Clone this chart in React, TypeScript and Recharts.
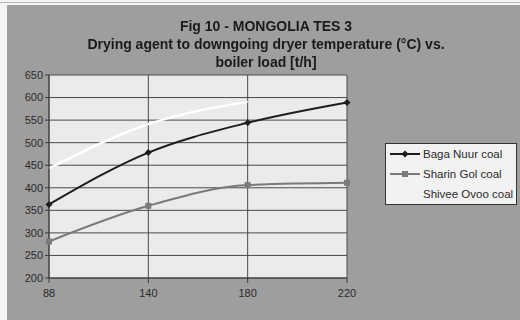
import { CartesianGrid, Line, LineChart, XAxis, YAxis } from "recharts";

// boiler load [t/h]
const loads = ["88", "140", "180", "220"];
// drying agent temperature (°C) per coal
const bagaNuur = [363, 478, 544, 589];
const sharinGol = [281, 360, 406, 411];
const shiveeOvoo = [443, 541, 591, null];
const yTicks = [200, 250, 300, 350, 400, 450, 500, 550, 600, 650];

const data = loads.map((load, i) => ({
  load,
  baga: bagaNuur[i],
  sharin: sharinGol[i],
  shivee: shiveeOvoo[i],
}));

const font = "'Liberation Sans', Arial, sans-serif";

const Diamond = (props: any) => {
  const { cx, cy, key } = props;
  if (cx == null || cy == null) return <g key={key} />;
  const r = 3.5;
  return (
    <polygon
      key={key}
      points={`${cx},${cy - r} ${cx + r},${cy} ${cx},${cy + r} ${cx - r},${cy}`}
      fill="#1e1e1e"
    />
  );
};

const Square = (props: any) => {
  const { cx, cy, key } = props;
  if (cx == null || cy == null) return <g key={key} />;
  return <rect key={key} x={cx - 3} y={cy - 3} width={6} height={6} fill="#7a7a7a" />;
};

const legendItems = [
  { name: "Baga Nuur coal", color: "#1e1e1e", mark: "diamond" },
  { name: "Sharin Gol coal", color: "#7a7a7a", mark: "square" },
  { name: "Shivee Ovoo coal", color: "#ffffff", mark: "none" },
];

export default function App() {
  return (
    <div
      style={{
        position: "fixed",
        left: 0,
        top: 0,
        width: 520,
        height: 320,
        background: "#f4f4f4",
        fontFamily: font,
      }}
    >
      <div style={{ position: "absolute", left: 0, top: 2, width: 520, height: 1, background: "#b8b8b8" }} />
      <div
        style={{
          position: "absolute",
          left: 7,
          top: 5,
          width: 513,
          height: 315,
          background: "#9e9e9e",
        }}
      >
        <LineChart
          width={513}
          height={315}
          data={data}
          margin={{ top: 70, right: 173, left: 0, bottom: 12 }}
        >
          <CartesianGrid stroke="#4a4a4a" strokeWidth={1} fill="#ebebeb" fillOpacity={1} />
          <XAxis
            dataKey="load"
            ticks={loads}
            stroke="#3a3a3a"
            tickSize={5}
            height={30}
            tick={{ fill: "#2a2a2a", fontSize: 11, fontFamily: font }}
            tickMargin={6}
          />
          <YAxis
            domain={[200, 650]}
            ticks={yTicks}
            width={42}
            stroke="#3a3a3a"
            tickSize={4}
            tickMargin={2}
            interval={0}
            tick={{ fill: "#2a2a2a", fontSize: 11, fontFamily: font }}
          />
          <Line
            dataKey="shivee"
            type="monotone"
            stroke="#ffffff"
            strokeWidth={2.5}
            dot={false}
            isAnimationActive={false}
          />
          <Line
            dataKey="sharin"
            type="monotone"
            stroke="#7a7a7a"
            strokeWidth={2}
            dot={Square}
            isAnimationActive={false}
          />
          <Line
            dataKey="baga"
            type="monotone"
            stroke="#1e1e1e"
            strokeWidth={2}
            dot={Diamond}
            isAnimationActive={false}
          />
        </LineChart>
      </div>
      <div
        style={{
          position: "absolute",
          left: 0,
          top: 17,
          width: 532,
          textAlign: "center",
          fontWeight: "bold",
          fontSize: 14,
          lineHeight: "18px",
          color: "#1a1a1a",
        }}
      >
        <div>Fig 10 - MONGOLIA TES 3</div>
        <div>Drying agent to downgoing dryer temperature (°C) vs.</div>
        <div>boiler load [t/h]</div>
      </div>
      <div
        style={{
          position: "absolute",
          left: 385,
          top: 143,
          width: 132,
          height: 62,
          background: "#f2f2f2",
          border: "1px solid #333",
          boxSizing: "border-box",
          fontSize: 11.5,
          color: "#2a2a2a",
        }}
      >
        {legendItems.map((it, i) => (
          <div
            key={it.name}
            style={{ position: "absolute", left: 2, top: 2 + i * 20, height: 16, display: "flex", alignItems: "center" }}
          >
            <svg width={34} height={16}>
              {it.mark !== "none" && <line x1={2} y1={8} x2={32} y2={8} stroke={it.color} strokeWidth={2} />}
              {it.mark === "diamond" && <polygon points="17,4.5 20.5,8 17,11.5 13.5,8" fill={it.color} />}
              {it.mark === "square" && <rect x={14} y={5} width={6} height={6} fill={it.color} />}
            </svg>
            <span style={{ marginLeft: 1 }}>{it.name}</span>
          </div>
        ))}
      </div>
    </div>
  );
}
